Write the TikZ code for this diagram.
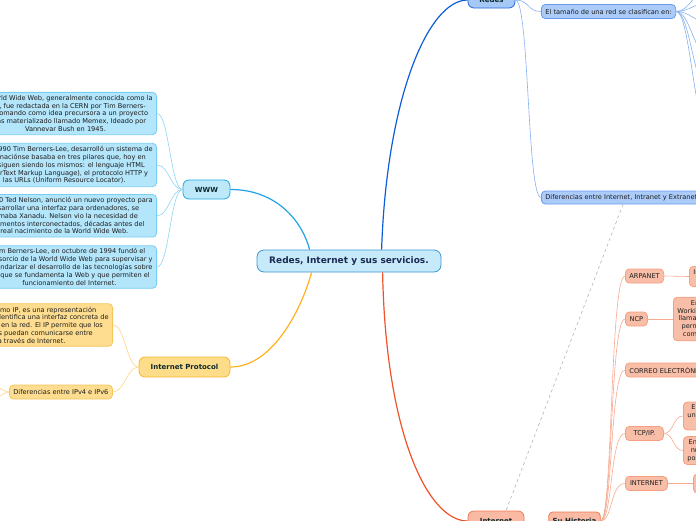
\documentclass[tikz,border=0pt]{standalone}
\usepackage{fontspec}
\setmainfont{DejaVu Sans}
\usetikzlibrary{calc}
\definecolor{txt}{HTML}{1C1C1C}
\definecolor{dtxt}{HTML}{0C2A2E}
\definecolor{navy}{HTML}{1B2A50}
\definecolor{cfill}{HTML}{C6EAFA}
\definecolor{cdraw}{HTML}{3F96D2}
\definecolor{wedge}{HTML}{1EA3E6}
\definecolor{wfill}{HTML}{BCE8FA}
\definecolor{wdraw}{HTML}{22A7E5}
\definecolor{wcfill}{HTML}{B3E5FB}
\definecolor{wcdraw}{HTML}{78CDF3}
\definecolor{wconn}{HTML}{8CD4F3}
\definecolor{yedge}{HTML}{FFB21C}
\definecolor{yfill}{HTML}{FDDC8A}
\definecolor{ydraw}{HTML}{F6B52E}
\definecolor{ycfill}{HTML}{FEDD90}
\definecolor{ycdraw}{HTML}{F5C65C}
\definecolor{yconn}{HTML}{FCD584}
\definecolor{redge}{HTML}{0C5ED8}
\definecolor{rfill}{HTML}{A6C8F6}
\definecolor{rdraw}{HTML}{2466D8}
\definecolor{rcfill}{HTML}{ABCBF9}
\definecolor{rcdraw}{HTML}{6A9BE9}
\definecolor{rconn}{HTML}{86B1F0}
\definecolor{iedge}{HTML}{F0532A}
\definecolor{ifill}{HTML}{F9B9A3}
\definecolor{idraw}{HTML}{EE7A55}
\definecolor{icfill}{HTML}{F9BEA8}
\definecolor{icdraw}{HTML}{F59E80}
\definecolor{iconn}{HTML}{F8A88D}
\tikzset{
  base/.style={rounded corners=4pt, line width=0.8pt, text=txt, align=center,
    inner xsep=4pt, inner ysep=3pt, font=\fontsize{6.6}{7.8}\selectfont},
  boldbox/.style={base, text=dtxt, font=\fontsize{7}{8.4}\selectfont\bfseries, rounded corners=6pt},
  centralbox/.style={base, fill=cfill, draw=cdraw, text=navy, rounded corners=7pt,
    font=\fontsize{9}{10}\selectfont\bfseries, minimum width=184pt, minimum height=22pt},
  wwwbox/.style={boldbox, fill=wfill, draw=wdraw},
  wchild/.style={base, fill=wcfill, draw=wcdraw},
  ipbox/.style={boldbox, fill=yfill, draw=ydraw},
  ychild/.style={base, fill=ycfill, draw=ycdraw},
  redesbox/.style={boldbox, fill=rfill, draw=rdraw},
  rchild/.style={base, fill=rcfill, draw=rcdraw, minimum height=14pt, inner ysep=1pt},
  inetbox/.style={boldbox, fill=ifill, draw=idraw},
  ichild/.style={base, fill=icfill, draw=icdraw},
  ismall/.style={ichild, minimum height=14pt, inner ysep=1pt},
  mainedge/.style={line width=1.2pt},
  subconn/.style={line width=0.6pt},
  relline/.style={line width=0.6pt, draw=gray!60, dash pattern=on 3pt off 3pt}
}
\begin{document}
\begin{tikzpicture}[x=1pt,y=-1pt]
\useasboundingbox (0,0) rectangle (696,520);
\clip (0,0) rectangle (696,520);

% central
\node[centralbox] (central) at (349,261) {Redes, Internet y sus servicios.};

% WWW branch
\node[wwwbox, minimum width=47pt, minimum height=19pt] (www) at (206.5,189.5) {WWW};
\node[wchild, anchor=east] (w1) at (157,113.5) {La World Wide Web, generalmente conocida como la\\Web, fue redactada en la CERN por Tim Berners-\\Lee tomando como idea precursora a un proyecto\\jamás materializado llamado Memex, Ideado por\\Vannevar Bush en 1945.};
\node[wchild, anchor=east] (w2) at (157,165) {En el 1990 Tim Berners-Lee, desarrolló un sistema de\\informaciónse basaba en tres pilares que, hoy en\\día, siguen siendo los mismos: el lenguaje HTML\\(HyperText Markup Language), el protocolo HTTP y\\las URLs (Uniform Resource Locator).};
\node[wchild, anchor=east] (w3) at (157,215.8) {En 1960 Ted Nelson, anunció un nuevo proyecto para\\desarrollar una interfaz para ordenadores, se\\llamaba Xanadu. Nelson vio la necesidad de\\documentos interconectados, décadas antes del\\real nacimiento de la World Wide Web.};
\node[wchild, anchor=east] (w4) at (157,267) {Tim Berners-Lee, en octubre de 1994 fundó el\\Consorcio de la World Wide Web  para supervisar y\\estandarizar el desarrollo de las tecnologías sobre\\las que se fundamenta la Web y que permiten el\\funcionamiento del Internet.};

% Internet Protocol branch
\node[ipbox, minimum width=91pt, minimum height=20pt] (ip) at (184.5,367) {Internet Protocol};
\node[ychild, anchor=east] (ip1) at (113,325) {Conocida como IP, es una representación\\numérica que identifica una interfaz concreta de\\un dispositivo en la red. El IP permite que los\\dispositivos  puedan comunicarse entre\\sí a través de Internet.};
\node[ychild, anchor=west, minimum height=14pt, inner ysep=1pt] (ip2) at (9,392) {Diferencias entre IPv4 e IPv6};
\coordinate (g1) at (-15,381);
\coordinate (g2) at (-15,404);

% Redes branch
\node[redesbox, minimum width=47pt, minimum height=16pt] (redes) at (491.5,0) {Redes};
\node[rchild, anchor=west, minimum width=134pt] (rsize) at (541,11.5) {El tamaño de una red se clasifican en:};
\node[rchild, anchor=west, minimum height=13pt] (rdiff) at (541,197.5) {Diferencias entre Internet, Intranet y Extranet};
\coordinate (f1) at (708,-10);
\coordinate (f2) at (708,3);
\coordinate (f3) at (708,22);
\coordinate (f4) at (708,55);
\coordinate (f5) at (708,90);
\coordinate (f6) at (708,128);

% Internet branch
\node[inetbox, minimum width=56pt, minimum height=20pt] (inet) at (496,521) {Internet};
\node[inetbox, minimum width=49pt, minimum height=18pt, rounded corners=4pt] (hist) at (574.5,521) {Su Historia};
\node[ismall, anchor=west, minimum width=38pt] (arpa) at (625,276) {ARPANET};
\node[ismall, anchor=west, minimum width=22pt] (ncp) at (625,319) {NCP};
\node[ismall, anchor=west] (correo) at (625,370) {CORREO ELECTRÓNICO};
\node[ismall, anchor=west, minimum width=38pt] (tcp) at (625,433.5) {TCP/IP.};
\node[ismall, anchor=west, minimum width=42pt] (inet2) at (625,483.5) {INTERNET};
\node[ichild, anchor=west] (arpac) at (689,276.5) {Inicia en 1969 como un proyecto del\\Departamento de Defensa};
\node[ichild, anchor=west] (ncpc) at (673,319) {En 1970 el Network\\Working Group desarrolló el\\llamado protocolo NCP que\\permitía la comunicación\\computadoras de la red.};
\node[ichild, anchor=west] (tcp1) at (683,416) {En 1974 se propuso una\\una nueva arquitectura de\\protocolos TCP/IP};
\node[ichild, anchor=west] (tcp2) at (683,450.5) {En 1983 el TCP/IP\\nuevo protocolo\\posibilitó Internet.};
\node[ichild, anchor=west] (inet2c) at (693,483.5) {\quad En 1990 nace la\\\quad World Wide Web.};

% main edges
\draw[mainedge, wedge] (www.east) .. controls +(45,0) and +(-8,-30) .. ($(central.north west)+(53,0)$);
\draw[mainedge, yedge] (ip.east) .. controls +(45,0) and +(-8,30) .. ($(central.south west)+(55,0)$);
\draw[mainedge, redge] ($(central.north west)+(125,0)$) .. controls +(5,-150) and +(-40,0) .. (redes.west);
\draw[mainedge, iedge] ($(central.south west)+(126,0)$) .. controls +(3,160) and +(-40,0) .. (inet.west);

% WWW connectors
\foreach \c in {w1,w2,w3,w4}
  \draw[subconn, wconn] (www.west) .. controls +(-12,0) and +(12,0) .. (\c.east);
% IP connectors
\foreach \c in {ip1,ip2}
  \draw[subconn, yconn] (ip.west) .. controls +(-12,0) and +(12,0) .. (\c.east);
\foreach \c in {g1,g2}
  \draw[subconn, yconn] (ip2.west) .. controls +(-6,0) and +(6,0) .. (\c);
% Redes connectors
\draw[subconn, rconn] (redes.east) .. controls +(14,0) and +(-14,0) .. (rsize.west);
\draw[subconn, rconn] (redes.east) .. controls +(14,0) and +(-14,0) .. (rdiff.west);
\foreach \c in {f1,f2,f3,f4,f5,f6}
  \draw[subconn, rconn] (rsize.east) .. controls +(14,0) and +(-14,0) .. (\c);
\draw[relline] ($(rdiff.south west)+(82,0)$) -- ($(inet.north)+(10,0)$);
% Internet connectors
\draw[line width=0.9pt, iconn] (inet.east) -- (hist.west);
\foreach \c in {arpa,ncp,correo,tcp,inet2}
  \draw[subconn, iconn] (hist.east) .. controls +(12,0) and +(-15,0) .. (\c.west);
\draw[subconn, iconn] (arpa.east) -- (arpac.west);
\draw[subconn, iconn] (ncp.east) -- (ncpc.west);
\draw[subconn, iconn] (tcp.east) .. controls +(10,0) and +(-10,0) .. (tcp1.west);
\draw[subconn, iconn] (tcp.east) .. controls +(10,0) and +(-10,0) .. (tcp2.west);
\draw[subconn, iconn] (inet2.east) -- (inet2c.west);
\end{tikzpicture}
\end{document}
